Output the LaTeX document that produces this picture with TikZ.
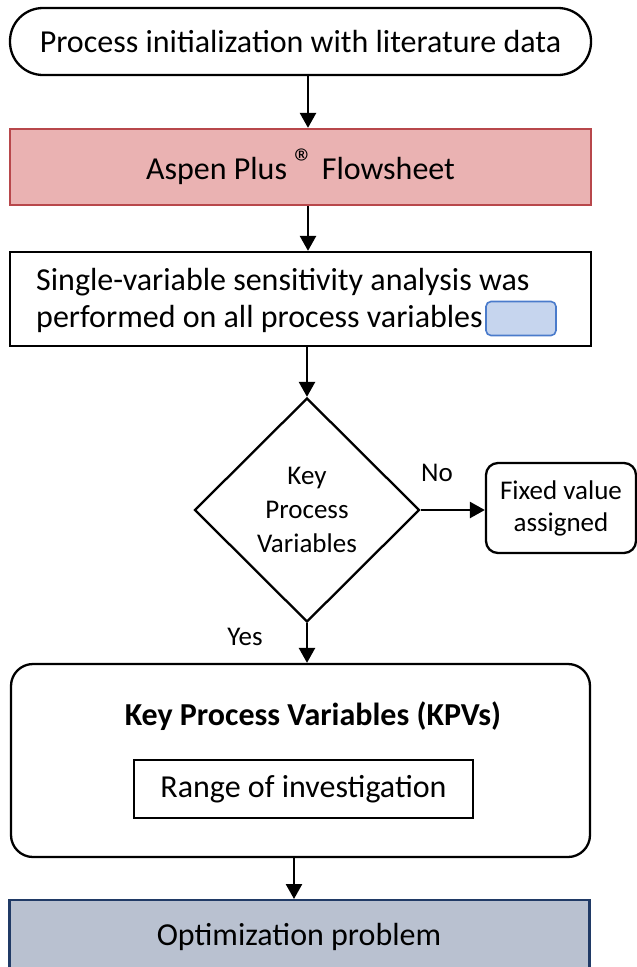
\documentclass[tikz,border=0pt]{standalone}
\usepackage{fontspec}
\setmainfont{Carlito}
\usetikzlibrary{arrows.meta,shapes.geometric}
\definecolor{aspfill}{HTML}{EAB2B2}
\definecolor{aspdraw}{HTML}{B8474B}
\definecolor{optfill}{HTML}{B9C1D0}
\definecolor{optdraw}{HTML}{203A66}
\definecolor{bluefill}{HTML}{C6D5EE}
\definecolor{bluedraw}{HTML}{4A7BCB}
\tikzset{
  box/.style={draw, line width=2.3pt, align=center, inner sep=0pt, font=\fontsize{32}{38}\selectfont},
  flow/.style={line width=2.6pt, -{Triangle[length=15pt,width=16pt]}},
  lbl/.style={font=\fontsize{27}{32}\selectfont, inner sep=0pt},
}
\begin{document}
\begin{tikzpicture}[x=1pt,y=-1pt]
\useasboundingbox (0,0) rectangle (637,967);
% top terminal
\node[box, rounded corners=33pt, minimum width=581pt, minimum height=67pt] (start) at (300.5,41.5) {Process initialization with literature data};
% Aspen
\node[box, fill=aspfill, draw=aspdraw, minimum width=581pt, minimum height=76pt] (aspen) at (300.5,167) {Aspen Plus \raisebox{0.1em}{\fontsize{40}{40}\selectfont ®} Flowsheet};
% Single variable
\node[box, minimum width=581pt, minimum height=94pt] (single) at (300.5,299) {};
\node[font=\fontsize{32}{37}\selectfont, align=left, anchor=west, inner sep=0pt] (stext) at (36,300) {Single-variable sensitivity analysis was\\performed on all process variables};
\node[draw=bluedraw, fill=bluefill, line width=1.6pt, rounded corners=5pt, minimum width=70pt, minimum height=34pt, inner sep=0pt] (blue) at (521,318.5) {};
% Diamond
\node[draw, line width=2.3pt, diamond, minimum width=225pt, minimum height=224pt, inner sep=0pt, align=center, font=\fontsize{27}{34}\selectfont] (dec) at (307,510) {Key\\Process\\Variables};
% Fixed value
\node[box, rounded corners=12pt, minimum width=150pt, minimum height=90pt, font=\fontsize{27}{32}\selectfont] (fixed) at (561,508) {Fixed value\\assigned};
% KPV
\node[box, rounded corners=22pt, minimum width=579pt, minimum height=193pt] (kpv) at (300.5,760.5) {};
\node[font=\bfseries\fontsize{32}{38}\selectfont, inner sep=0pt] (kpvt) at (313,716) {Key Process Variables (KPVs)};
\node[box, line width=2pt, minimum width=339pt, minimum height=58pt] (range) at (303.5,789) {Range of investigation};
% Optimization
\node[box, fill=optfill, draw=optdraw, minimum width=580pt, minimum height=80pt, anchor=north] (opt) at (299.5,899) {};
\node[font=\fontsize{32}{38}\selectfont, inner sep=0pt] (optt) at (299,937) {Optimization problem};
% connectors
\draw[flow] (start.south -| 308,0) -- (aspen.north -| 308,0);
\draw[flow] (aspen.south -| 308,0) -- (single.north -| 308,0);
\draw[flow] (single.south -| dec.north) -- (dec.north);
\draw[flow] (dec.east) -- (fixed.west |- dec.east);
\draw[flow] (dec.south) -- (kpv.north -| dec.south);
\draw[flow] (kpv.south -| 294,0) -- (opt.north -| 294,0);
% labels
\node[lbl] (no) at (437,473) {No};
\node[lbl] (yes) at (245,637) {Yes};
\end{tikzpicture}
\end{document}
